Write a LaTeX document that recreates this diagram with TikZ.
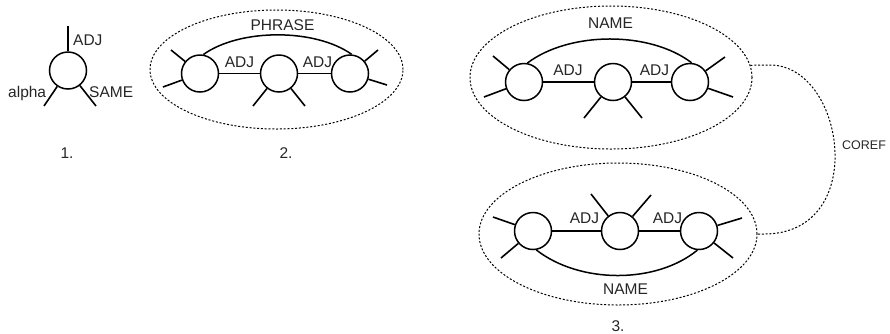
\documentclass[tikz,border=0pt]{standalone}
\usepackage{fontspec}
\setmainfont{Liberation Sans}
\usetikzlibrary{shapes.geometric}
\begin{document}
\begin{tikzpicture}[x=1pt,y=-1pt,
  circ/.style={circle,draw,minimum size=37pt,inner sep=0pt,line width=1.5pt},
  spoke/.style={line width=1.6pt},
  rel/.style={line width=1.5pt},
  ell/.style={ellipse,draw,inner sep=0pt,line width=1pt,dash pattern=on 2pt off 1.8pt},
  dotline/.style={line width=1pt,dash pattern=on 2pt off 1.8pt},
  lab/.style={inner sep=0pt,anchor=base,font=\fontsize{15.5}{18}\selectfont,text=black!85},
  labw/.style={lab,anchor=base west},
  small/.style={inner sep=0pt,anchor=west,font=\fontsize{12.5}{15}\selectfont,text=black!85}]
\useasboundingbox (0,0) rectangle (890,333);

% ---------- 1 ----------
\node[circ] (a) at (68,70.5) {};
\coordinate (a1) at (68,26);
\coordinate (a2) at (44,106);
\coordinate (a3) at (96,106);
\draw[spoke] (a) -- (a1);
\draw[spoke] (a) -- (a2);
\draw[spoke] (a) -- (a3);
\node[labw] (aadj) at (73,45) {ADJ};
\node[labw] (aalpha) at (8,97) {alpha};
\node[labw] (asame) at (89,97) {SAME};
\node[lab] (n1) at (67,158) {1.};

% ---------- 2 ----------
\node[ell,minimum width=253pt,minimum height=119pt] (e2) at (276.5,69.5) {};
\node[circ] (p2a) at (200,73.5) {};
\node[circ] (p2b) at (279,73.5) {};
\node[circ] (p2c) at (350,73.5) {};
\coordinate (q1) at (171,50);
\coordinate (q2) at (163,87);
\coordinate (q3) at (253,106);
\coordinate (q4) at (305,106);
\coordinate (q5) at (378,50);
\coordinate (q6) at (387,85);
\draw[spoke] (p2a) -- (q1);
\draw[spoke] (p2a) -- (q2);
\draw[spoke] (p2b) -- (q3);
\draw[spoke] (p2b) -- (q4);
\draw[spoke] (p2c) -- (q5);
\draw[spoke] (p2c) -- (q6);
\draw[rel] (p2a) -- (p2b);
\draw[rel] (p2b) -- (p2c);
\draw[rel] (p2a.80) .. controls (240,28.3) and (315,28.3) .. (p2c.85);
\node[lab] (l2a) at (239.5,67) {ADJ};
\node[lab] (l2b) at (317.5,67) {ADJ};
\node[lab] (l2p) at (282.5,30) {PHRASE};
\node[lab] (n2) at (286,158) {2.};

% ---------- 3 top ----------
\node[ell,minimum width=282pt,minimum height=143pt] (e3t) at (611,77.5) {};
\node[circ] (t1) at (524,82) {};
\node[circ] (t2) at (613,82) {};
\node[circ] (t3) at (690,82) {};
\coordinate (r1) at (493,56);
\coordinate (r2) at (484,97);
\coordinate (r3) at (584,118);
\coordinate (r4) at (642,118);
\coordinate (r5) at (725,57);
\coordinate (r6) at (733,97);
\draw[spoke] (t1) -- (r1);
\draw[spoke] (t1) -- (r2);
\draw[spoke] (t2) -- (r3);
\draw[spoke] (t2) -- (r4);
\draw[spoke] (t3) -- (r5);
\draw[spoke] (t3) -- (r6);
\draw[rel] (t1) -- (t2);
\draw[rel] (t2) -- (t3);
\draw[rel] (t1.80) .. controls (570,31) and (650,31) .. (t3.85);
\node[lab] (l3a) at (568,75) {ADJ};
\node[lab] (l3b) at (654.5,75) {ADJ};
\node[lab] (l3n) at (610.5,28) {NAME};

% ---------- 3 bottom ----------
\node[ell,minimum width=278pt,minimum height=142pt] (e3b) at (618,234) {};
\node[circ] (b1) at (533,231) {};
\node[circ] (b2) at (620,231) {};
\node[circ] (b3) at (699,231) {};
\coordinate (s1) at (493,217);
\coordinate (s2) at (501,258);
\coordinate (s3) at (591,194);
\coordinate (s4) at (651,195);
\coordinate (s5) at (742,218);
\coordinate (s6) at (733,258);
\draw[spoke] (b1) -- (s1);
\draw[spoke] (b1) -- (s2);
\draw[spoke] (b2) -- (s3);
\draw[spoke] (b2) -- (s4);
\draw[spoke] (b3) -- (s5);
\draw[spoke] (b3) -- (s6);
\draw[rel] (b1) -- (b2);
\draw[rel] (b2) -- (b3);
\draw[rel] (b1.-80) .. controls (580,284) and (656,284) .. (b3.-95);
\node[lab] (l4a) at (584.5,223) {ADJ};
\node[lab] (l4b) at (667.5,223) {ADJ};
\node[lab] (l4n) at (625.5,294) {NAME};
\node[lab] (n3) at (618,331) {3.};

% ---------- COREF ----------
\coordinate (c1) at (770,65);
\coordinate (c2) at (764,234);
\draw[dotline] (e3t.5) -- (c1) .. controls (845,65) and (870,234) .. (c2) -- (e3b.east);
\node[small] (coref) at (842,145) {COREF};
\end{tikzpicture}
\end{document}
